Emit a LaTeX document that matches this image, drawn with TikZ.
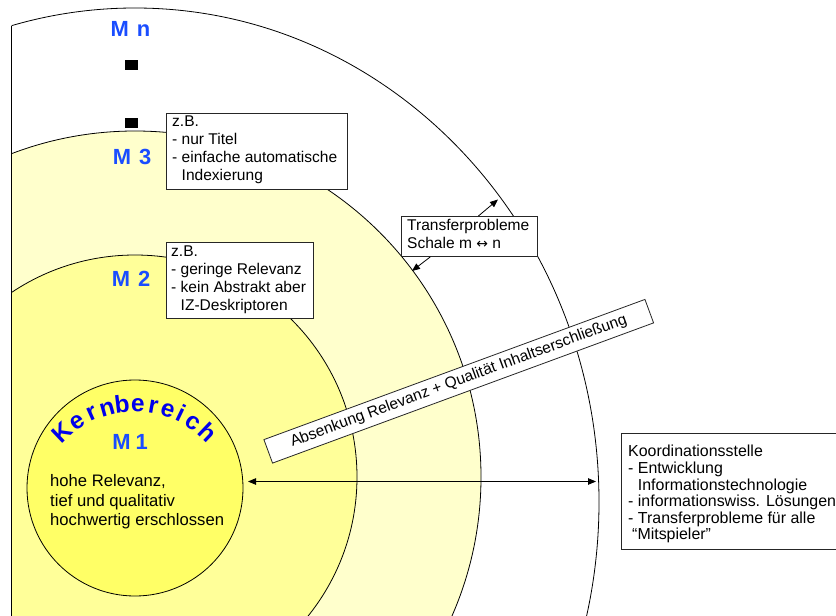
\documentclass[tikz,border=0pt]{standalone}
\usepackage{fontspec}
\setmainfont{Liberation Sans}
\newfontfamily\arrowfont{DejaVu Sans}
\usetikzlibrary{arrows.meta}
\definecolor{shellA}{HTML}{FFFFCC}
\definecolor{shellB}{HTML}{FFFF99}
\definecolor{coreY}{HTML}{FFFF66}
\definecolor{mblue}{RGB}{26,77,255}
\definecolor{kblue}{RGB}{0,0,235}
\begin{document}
\begin{tikzpicture}[x=1bp,y=-1bp,
  every node/.style={inner sep=0pt},
  notebox/.style={draw=black!85, fill=white, line width=0.8bp, anchor=north west},
  notetext/.style={font=\fontsize{15.6}{18}\selectfont, align=left, anchor=north west,
    execute at begin node=\strut, execute at end node=\strut},
  mlabel/.style={font=\fontsize{22}{24}\selectfont\bfseries, text=mblue},
  kletter/.style={font=\fontsize{24.5}{26}\selectfont\bfseries, text=kblue, anchor=base},
  shell/.style={draw=black, line width=0.8bp},
  tip/.style={-{Triangle[length=8bp,width=6.5bp]}, line width=0.8bp},
  bothtips/.style={{Triangle[length=8bp,width=6.5bp]}-{Triangle[length=8bp,width=6.5bp]}, line width=0.8bp},
]
\useasboundingbox (0,0) rectangle (836,616);
\clip (0,0) rectangle (836,616);

% concentric shells, cut off at the left margin
\begin{scope}
  \clip (11.5,0) rectangle (836,616);
  \filldraw[shell, fill=white]  (135,502) ellipse [x radius=464, y radius=494];
  \filldraw[shell, fill=shellA] (135,477) circle [radius=346];
  \filldraw[shell, fill=shellB] (135,477) circle [radius=222];
  \filldraw[shell, fill=coreY]  (135,488) circle [radius=108];
\end{scope}
\draw[line width=0.8bp] (11.5,25.8) -- (11.5,616);

% ellipsis marks between M 3 and M n
\fill (125,60) rectangle (138,70);
\fill (125,118) rectangle (138,128);

% shell labels
\node[mlabel] (mn) at (130.5,29) {M\hskip8bp n};
\node[mlabel] (m3) at (132,157) {M\hskip8bp 3};
\node[mlabel] (m2) at (131,278.5) {M\hskip8bp 2};
\node[mlabel] (m1) at (130,442) {M\hskip5bp 1};

% arched title of the core
\foreach \ch/\ang [count=\i] in {K/133.5, e/123.7, r/114.1, n/105.5, b/97, e/88.4, r/80, e/71.7, i/64.4, c/56, h/46.5}
  \node[kletter, rotate=\ang-90] (kb\i) at ({135+97.5*cos(\ang)}, {509-97.5*sin(\ang)}) {\ch};

% core description
\node[font=\fontsize{16.7}{19.6}\selectfont, align=left, anchor=north west,
  execute at begin node=\strut, execute at end node=\strut] (coretext) at (50,474.6)
  {hohe Relevanz,\\tief und qualitativ\\hochwertig erschlossen};

% example boxes
\node[notebox, minimum width=181bp, minimum height=76bp] (box3) at (166,113) {};
\node[notetext] (box3text) at ([shift={(6bp,-2.9bp)}]box3.north west)
  {z.B.\\- nur Titel\\- einfache automatische\\\phantom{- }Indexierung};

\node[notebox, minimum width=147bp, minimum height=76bp] (box2) at (166,242) {};
\node[notetext] (box2text) at ([shift={(5bp,-3.9bp)}]box2.north west)
  {z.B.\\- geringe Relevanz\\- kein Abstrakt aber\\\phantom{- }IZ-Deskriptoren};

% transfer box with its two arrows
\node[notebox, minimum width=136bp, minimum height=40bp] (tbox) at (401,216) {};
\node[notetext] (tboxtext) at ([shift={(6bp,-2.9bp)}]tbox.north west)
  {Transferprobleme\\Schale m {\arrowfont\fontsize{14}{14}\selectfont ↔} n};
\coordinate (tipouter) at (498,199.5);
\coordinate (tipshell) at (412,271);
\draw[tip] ([xshift=9bp]tbox.north) -- (tipouter);
\draw[tip] ([xshift=-39bp]tbox.south) -- (tipshell);

% diagonal banner
\node[draw=black!85, fill=white, line width=0.8bp, rotate=20.2,
  minimum width=406bp, minimum height=25bp, font=\fontsize{15.6}{18}\selectfont] (banner)
  at (458.75,381.25) {Absenkung Relevanz + Qualität Inhaltserschließung};

% coordination box
\node[notebox, minimum width=240bp, minimum height=116bp] (kbox) at (621,433) {};
\node[notetext, font=\fontsize{16}{16.7}\selectfont] (kboxtext) at ([shift={(7bp,-12bp)}]kbox.north west)
  {Koordinationsstelle\\- Entwicklung\\\phantom{- }Informationstechnologie\\- informationswiss. Lösungen\\- Transferprobleme für alle\\\hspace{4bp}“Mitspieler”};

% span from the core to the outer shell
\coordinate (coreedge) at (248,481.5);
\coordinate (outeredge) at (596,481.5);
\draw[bothtips] (coreedge) -- (outeredge);
\end{tikzpicture}
\end{document}
